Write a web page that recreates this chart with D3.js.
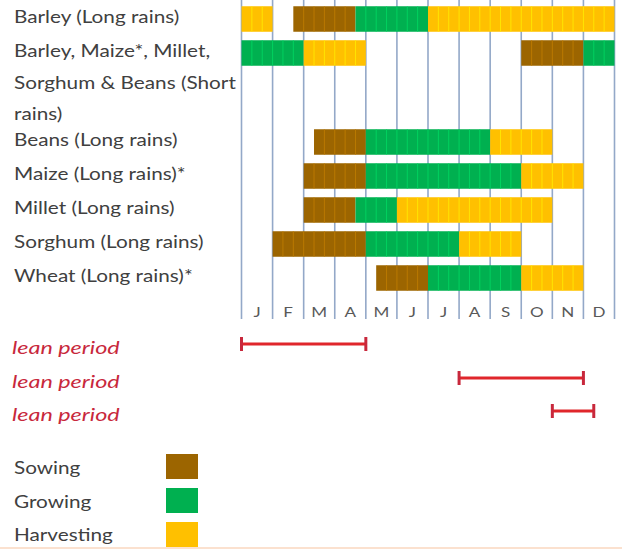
<!DOCTYPE html>
<html>
<head>
<meta charset="utf-8">
<script src="https://cdn.jsdelivr.net/npm/d3@7"></script>
<style>
	body { margin: 0; background: #fff; }
	text { font-family: Lato, "Open Sans", sans-serif; }
</style>
</head>
<body>
<div id="calendar"></div>
<script>
// month letters along the bottom
const monthLabels = ["J", "F", "M", "A", "M", "J", "J", "A", "S", "O", "N", "D"];

// crop labels, one entry per row (some rows wrap over several lines)
const cropLabels = [
	["Barley (Long rains)"],
	["Barley, Maize*, Millet,", "Sorghum & Beans (Short", "rains)"],
	["Beans (Long rains)"],
	["Maize (Long rains)*"],
	["Millet (Long rains)"],
	["Sorghum (Long rains)"],
	["Wheat (Long rains)*"],
];

// stages per crop: [stage, from month, to month] (0 = start of Jan, 12 = end of Dec)
const barleyLong = [["Harvesting", 0, 1], ["Sowing", 1.667, 3.667], ["Growing", 3.667, 6], ["Harvesting", 6, 12]];
const shortRains = [["Growing", 0, 2], ["Harvesting", 2, 4], ["Sowing", 9, 11], ["Growing", 11, 12]];
const beansLong = [["Sowing", 2.333, 4], ["Growing", 4, 8], ["Harvesting", 8, 10]];
const maizeLong = [["Sowing", 2, 4], ["Growing", 4, 9], ["Harvesting", 9, 11]];
const milletLong = [["Sowing", 2, 3.667], ["Growing", 3.667, 5], ["Harvesting", 5, 10]];
const sorghumLong = [["Sowing", 1, 4], ["Growing", 4, 7], ["Harvesting", 7, 9]];
const wheatLong = [["Sowing", 4.333, 6], ["Growing", 6, 9], ["Harvesting", 9, 11]];
const cropStages = [barleyLong, shortRains, beansLong, maizeLong, milletLong, sorghumLong, wheatLong];

// lean periods [from, to]
const leanPeriods = [[0, 4], [7, 11], [10, 11.333]];
const leanLabel = "lean period";

const stages = ["Sowing", "Growing", "Harvesting"];

const width = 622;
const height = 549;
const stretch = 1.22; // the original text is drawn wide

const svg = d3
	.select("#calendar")
	.append("svg")
	.attr("width", width)
	.attr("height", height);

const x = d3.scaleLinear().domain([0, 12]).range([241.5, 614.5]);
const color = d3.scaleOrdinal().domain(stages).range(["#9c6500", "#00b050", "#ffc000"]);

// row centres: rows with more label lines take more room
let rowY = [];
let yy = 19;
cropLabels.forEach((lines) => {
	rowY.push(yy);
	yy += 34 + (lines.length - 1) * 27.5;
});
const barH = 25.5;

// month grid lines
svg.append("g")
	.selectAll("line")
	.data(d3.range(13))
	.enter()
	.append("line")
	.attr("x1", (d) => x(d))
	.attr("x2", (d) => x(d))
	.attr("y1", 0)
	.attr("y2", 319)
	.style("stroke", "#93a8c8")
	.style("stroke-width", 1.6);

// month letters
svg.append("g")
	.selectAll("text")
	.data(monthLabels)
	.enter()
	.append("text")
	.attr("transform", (d, i) => `translate(${x(i + 0.5)},317) scale(${stretch},1)`)
	.attr("text-anchor", "middle")
	.style("font-size", "14px")
	.style("fill", "#595959")
	.text((d) => d);

// crop labels
const labels = svg.append("g");
cropLabels.forEach((lines, r) => {
	lines.forEach((line, j) => {
		labels
			.append("text")
			.attr("transform", `translate(14,${rowY[r] - 2 + j * 31.5 + 6}) scale(${stretch},1)`)
			.style("font-size", "17px")
			.style("fill", "#404040")
			.text(line);
	});
});

// bars, split into dekads (thirds of a month)
cropStages.forEach((segs, r) => {
	const g = svg.append("g");
	g.selectAll("rect")
		.data(segs)
		.enter()
		.append("rect")
		.attr("x", (d) => x(d[1]))
		.attr("y", rowY[r] - barH / 2)
		.attr("width", (d) => x(d[2]) - x(d[1]))
		.attr("height", barH)
		.style("fill", (d) => color(d[0]));

	segs.forEach((d) => {
		const cuts = d3.range(Math.ceil(d[1] * 3 + 0.01), Math.floor(d[2] * 3 - 0.01) + 1).map((k) => k / 3);
		g.selectAll(null)
			.data(cuts)
			.enter()
			.append("line")
			.attr("x1", (c) => x(c))
			.attr("x2", (c) => x(c))
			.attr("y1", rowY[r] - barH / 2)
			.attr("y2", rowY[r] + barH / 2)
			.style("stroke", d3.color(color(d[0])).brighter(0.6))
			.style("stroke-width", 0.8);
	});
});

// lean periods
const leanY = [344, 378, 411];
const lean = svg.append("g");
leanPeriods.forEach((p, i) => {
	lean.append("text")
		.attr("transform", `translate(12,${leanY[i] + 10}) scale(1.3,1)`)
		.style("font-size", "18px")
		.style("font-style", "italic")
		.style("fill", "#c8283c")
		.text(leanLabel);
	lean.append("line")
		.attr("x1", x(p[0]))
		.attr("x2", x(p[1]))
		.attr("y1", leanY[i])
		.attr("y2", leanY[i])
		.style("stroke", "#e0262b")
		.style("stroke-width", 3);
	[p[0], p[1]].forEach((e) => {
		lean.append("line")
			.attr("x1", x(e))
			.attr("x2", x(e))
			.attr("y1", leanY[i] - 7)
			.attr("y2", leanY[i] + 7)
			.style("stroke", "#c8283c")
			.style("stroke-width", 3);
	});
});

// legend
const legend = svg.append("g");
legend.selectAll("rect")
	.data(stages)
	.enter()
	.append("rect")
	.attr("x", 166)
	.attr("y", (d, i) => 454 + i * 34)
	.attr("width", 32)
	.attr("height", 25)
	.style("fill", (d) => color(d));
legend.selectAll("text")
	.data(stages)
	.enter()
	.append("text")
	.attr("transform", (d, i) => `translate(14,${474 + i * 33.5}) scale(${stretch},1)`)
	.style("font-size", "17px")
	.style("fill", "#404040")
	.text((d) => d);

// thin peach rule along the bottom edge
svg.append("rect")
	.attr("x", 0)
	.attr("y", 547)
	.attr("width", width)
	.attr("height", 2)
	.style("fill", "#fbe1cf");
</script>
</body>
</html>
